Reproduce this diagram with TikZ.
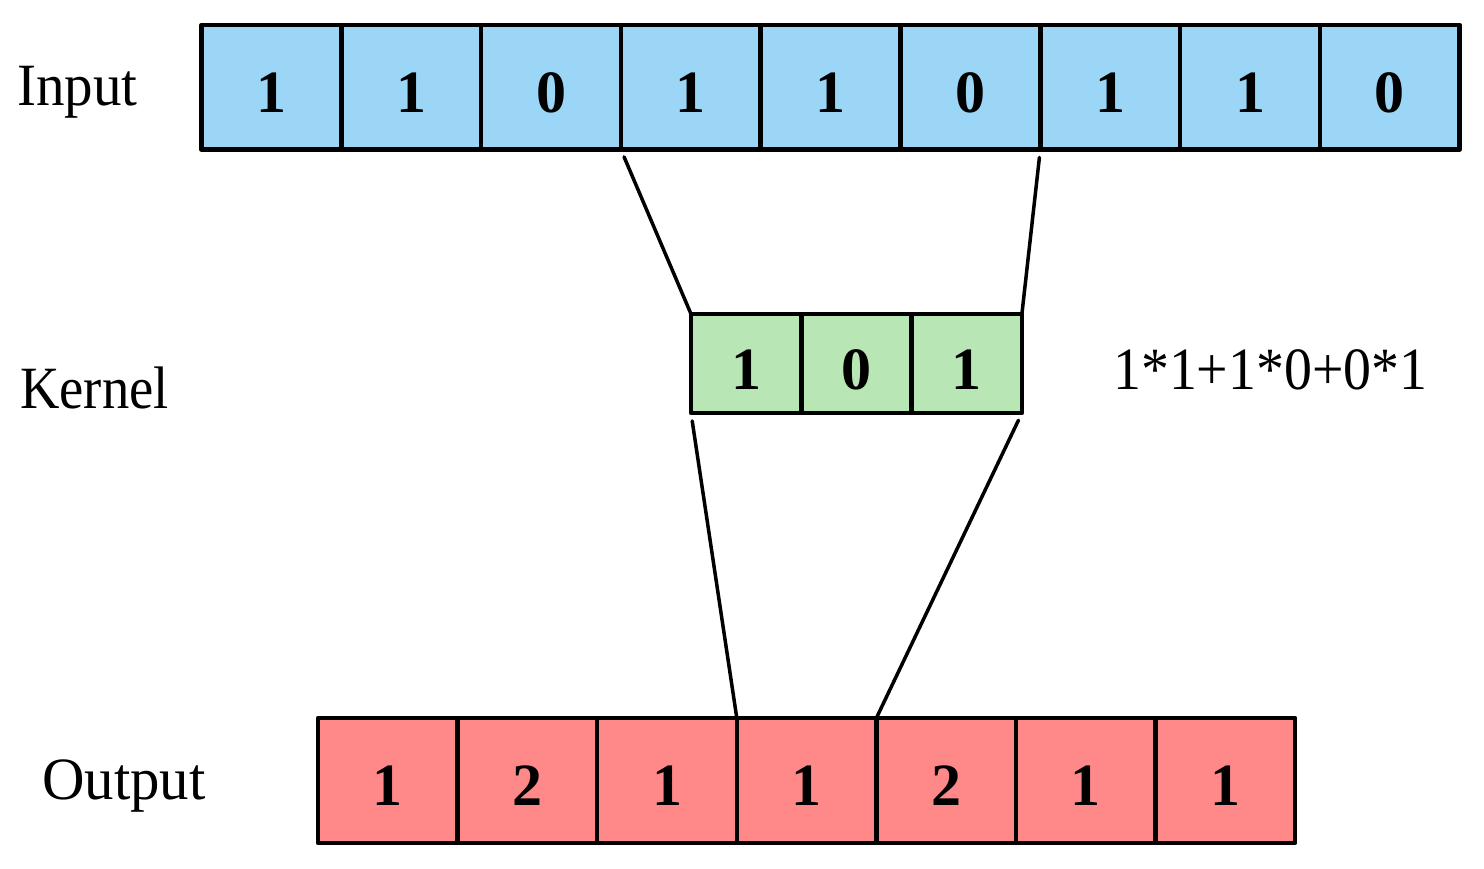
\documentclass[tikz,border=0pt]{standalone}
\usepackage{fontspec}
\setmainfont{Liberation Serif}
\usetikzlibrary{calc}
\definecolor{inblue}{RGB}{155,214,246}
\definecolor{kgreen}{RGB}{184,230,181}
\definecolor{outred}{RGB}{255,137,137}
\begin{document}
\begin{tikzpicture}[x=1pt,y=-1pt,
  cellbase/.style={draw=black,line width=4.5pt,line join=round,inner sep=0pt,outer sep=0pt,
    font=\fontsize{60}{72}\selectfont\bfseries,text height=50pt,text depth=0pt},
  incell/.style={cellbase,fill=inblue,minimum width=139.8pt,minimum height=124.5pt},
  kcell/.style={cellbase,fill=kgreen,minimum width=110.3pt,minimum height=99pt,text height=52pt},
  outcell/.style={cellbase,fill=outred,minimum width=139.6pt,minimum height=125pt},
  rowlabel/.style={anchor=base west,inner sep=0pt,font=\fontsize{60}{72}\selectfont},
  link/.style={draw=black,line width=3.5pt,line cap=round}
]
\useasboundingbox (0,0) rectangle (1484,868);

% Input row
\foreach \v [count=\i] in {1,1,0,1,1,0,1,1,0}
  \node[incell] (in\i) at ({201.5+139.8*(\i-0.5)},87.2) {\v};

% Kernel row
\foreach \v [count=\i] in {1,0,1}
  \node[kcell] (k\i) at ({691+110.3*(\i-0.5)},363.5) {\v};

% Output row
\foreach \v [count=\i] in {1,2,1,1,2,1,1}
  \node[outcell] (out\i) at ({318+139.6*(\i-0.5)},780.5) {\v};

% Labels
\node[rowlabel] (linput) at (17,105) {\scalebox{0.95}[1]{Input}};
\node[rowlabel] (lkernel) at (20,408) {\scalebox{0.91}[1]{Kernel}};
\node[rowlabel] (loutput) at (42,799) {\scalebox{0.98}[1]{Output}};
\node[anchor=base west,inner sep=0pt,font=\fontsize{60}{72}\selectfont] (formula) at (1113,389)
  {\scalebox{0.93}[1]{1*1+1*0+0*1}};

% Connectors
\draw[link,shorten <=8pt] (in3.south east) -- (k1.north west);
\draw[link,shorten <=8pt] (in6.south east) -- (k3.north east);
\draw[link,shorten <=8pt] (k1.south west) -- (out3.north east);
\draw[link,shorten <=8pt] (k3.south east) -- (out4.north east);
\end{tikzpicture}
\end{document}
